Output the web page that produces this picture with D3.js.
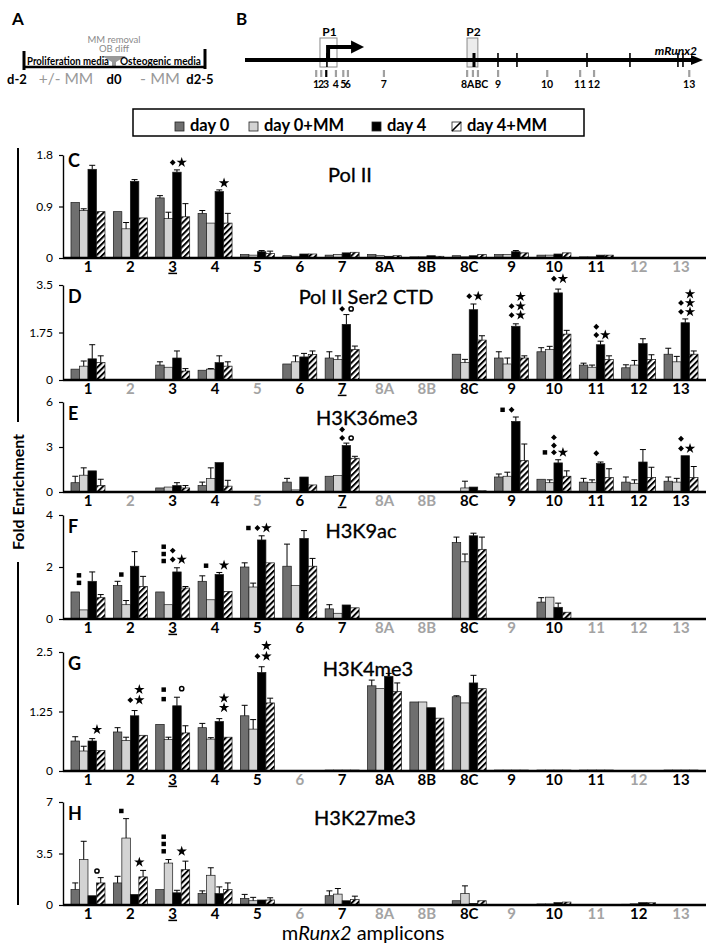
<!DOCTYPE html>
<html>
<head>
<meta charset="utf-8">
<script src="https://cdn.jsdelivr.net/npm/d3@7"></script>
<style>
  body { margin: 0; background: #fff; }
  svg { font-family: Lato, "Open Sans", sans-serif; }
</style>
</head>
<body>
<div id="chart"></div>
<script>
// ---- data ----
const categories = ["1", "2", "3", "4", "5", "6", "7", "8A", "8B", "8C", "9", "10", "11", "12", "13"];
const seriesNames = ["day 0", "day 0+MM", "day 4", "day 4+MM"];

// series order: day 0, day 0+MM, day 4, day 4+MM
const polIIVals = [
  [0.97, 0.81, 1.05, 0.78, 0.06, 0.04, 0.05, 0.06, 0.02, 0.04, 0.06, 0.05, 0.02, null, null],
  [0.83, 0.51, 0.69, 0.61, 0.05, 0.03, 0.06, 0.04, 0.02, 0.02, 0.06, 0.05, 0.02, null, null],
  [1.55, 1.34, 1.50, 1.16, 0.11, 0.07, 0.09, 0.03, 0.04, 0.04, 0.11, 0.07, 0.05, null, null],
  [0.81, 0.70, 0.72, 0.61, 0.08, 0.07, 0.10, 0.04, 0.03, 0.06, 0.09, 0.09, 0.05, null, null]
];
const polIIErr = [
  [0, 0, 0.04, 0.05, 0, 0, 0, 0, 0, 0, 0, 0, 0, 0, 0],
  [0.03, 0.11, 0.11, 0, 0, 0, 0, 0, 0, 0, 0, 0, 0, 0, 0],
  [0.07, 0.03, 0.04, 0.03, 0.02, 0, 0, 0, 0, 0, 0.02, 0, 0, 0, 0],
  [0, 0, 0.23, 0.17, 0.04, 0, 0, 0, 0, 0, 0, 0, 0, 0, 0]
];
const ser2Vals = [
  [0.40, null, 0.55, 0.36, null, 0.59, 0.81, null, null, 0.95, 0.81, 1.04, 0.55, 0.45, 0.95],
  [0.51, null, 0.47, 0.40, null, 0.67, 0.76, null, null, 0.64, 0.59, 1.12, 0.47, 0.55, 0.67],
  [0.78, null, 0.81, 0.64, null, 0.85, 2.05, null, null, 2.59, 1.98, 3.21, 1.30, 1.34, 2.11],
  [0.64, null, 0.33, 0.51, null, 0.94, 1.12, null, null, 1.47, 0.81, 1.69, 0.76, 0.76, 0.95]
];
const ser2Err = [
  [0, 0, 0.12, 0, 0, 0, 0.23, 0, 0, 0, 0.23, 0.15, 0.07, 0.11, 0.22],
  [0.19, 0, 0, 0.02, 0, 0.22, 0.13, 0, 0, 0.12, 0.22, 0.12, 0.08, 0.17, 0.20],
  [0.52, 0, 0.26, 0.25, 0, 0.13, 0.36, 0, 0, 0.21, 0.09, 0.14, 0.13, 0.18, 0.14],
  [0.25, 0, 0.09, 0.16, 0, 0.13, 0.13, 0, 0, 0.16, 0.08, 0.14, 0.13, 0.17, 0.12]
];
const k36Vals = [
  [0.62, null, 0.27, 0.43, null, 0.66, 1.05, null, null, 0.04, 1.00, 0.85, 0.66, 0.66, 0.72],
  [1.12, null, 0.33, 0.91, null, 0.14, 1.10, null, null, 0.27, 1.05, 0.62, 0.62, 0.58, 0.66],
  [1.41, null, 0.43, 1.96, null, 1.00, 3.10, null, null, 0.33, 4.71, 1.94, 1.90, 2.00, 2.42],
  [0.43, null, 0.27, 0.39, null, 0.47, 2.25, null, null, 0.08, 2.09, 1.05, 0.97, 0.97, 0.97]
];
const k36Err = [
  [0.43, 0, 0, 0.23, 0, 0.25, 0, 0, 0, 0, 0.20, 0, 0.25, 0.34, 0.28],
  [0.49, 0, 0, 0.70, 0, 0, 0, 0, 0, 0.45, 0.27, 0.19, 0.19, 0.23, 0.25],
  [0, 0, 0.19, 0, 0, 0, 0.16, 0, 0, 0, 0.29, 0.21, 0.10, 0.83, 0],
  [0.42, 0, 0.16, 0.39, 0, 0, 0.13, 0, 0, 0, 1.11, 0.36, 0.58, 0.68, 0.73]
];
const k9Vals = [
  [1.04, 1.29, 1.04, 1.45, 2.00, 2.03, 0.39, null, null, 2.94, null, 0.65, null, null, null],
  [0.35, 0.55, 0.55, 0.74, 1.23, 1.29, 0.22, null, null, 2.20, null, 0.84, null, null, null],
  [1.45, 2.03, 1.81, 1.71, 3.04, 3.10, 0.54, null, null, 3.20, null, 0.45, null, null, null],
  [0.82, 1.25, 1.19, 1.06, 2.16, 2.03, 0.43, null, null, 2.68, null, 0.26, null, null, null]
];
const k9Err = [
  [0, 0.16, 0, 0.21, 0.16, 0.85, 0.16, 0, 0, 0.21, 0, 0.17, 0, 0, 0],
  [0, 0.16, 0, 0, 0.15, 0, 0, 0, 0, 0.30, 0, 0, 0, 0, 0],
  [0.36, 0.56, 0.16, 0.08, 0.16, 0.30, 0, 0, 0, 0.10, 0, 0.16, 0, 0, 0],
  [0.12, 0.39, 0.06, 0, 0, 0.30, 0, 0, 0, 0.47, 0, 0, 0, 0, 0]
];
const k4Vals = [
  [0.63, 0.82, 0.98, 0.91, 1.16, null, 0.02, 1.79, 1.45, 1.56, 0.02, 0.02, 0.02, null, 0.02],
  [0.42, 0.64, 0.66, 0.67, 0.88, null, 0.02, 1.73, 1.45, 1.43, 0.02, 0.02, 0.02, null, 0.02],
  [0.63, 1.16, 1.37, 1.04, 2.07, null, 0.02, 1.99, 1.33, 1.85, 0.02, 0.02, 0.02, null, 0.02],
  [0.43, 0.75, 0.80, 0.71, 1.43, null, 0.02, 1.67, 1.11, 1.73, 0.02, 0.02, 0.02, null, 0.02]
];
const k4Err = [
  [0.09, 0.09, 0, 0.09, 0.22, 0, 0, 0.12, 0, 0.02, 0, 0, 0, 0, 0],
  [0.10, 0.07, 0.05, 0.03, 0.20, 0, 0, 0, 0, 0, 0, 0, 0, 0, 0],
  [0.05, 0.11, 0.18, 0.06, 0.12, 0, 0, 0.06, 0, 0.16, 0, 0, 0, 0, 0],
  [0, 0, 0.15, 0, 0.10, 0, 0, 0.18, 0, 0, 0, 0, 0, 0, 0]
];
const k27Vals = [
  [1.05, 1.50, 1.05, 0.78, 0.45, null, 0.63, null, null, 0.29, null, 0.07, null, 0.05, null],
  [3.09, 4.55, 2.85, 2.02, 0.29, null, 0.74, null, null, 0.78, null, 0.07, null, 0.08, null],
  [0.63, 0.72, 0.83, 0.78, 0.34, null, 0.29, null, null, 0.11, null, 0.16, null, 0.16, null],
  [1.50, 1.91, 2.40, 1.05, 0.34, null, 0.38, null, null, 0.29, null, 0.20, null, 0.15, null]
];
const k27Err = [
  [0.45, 0.45, 0, 0.18, 0.27, 0, 0.33, 0, 0, 0, 0, 0, 0, 0, 0],
  [1.24, 1.32, 0.24, 0.51, 0.23, 0, 0.38, 0, 0, 0.52, 0, 0, 0, 0, 0],
  [0, 0, 0.17, 0.45, 0, 0, 0, 0, 0, 0, 0, 0, 0, 0, 0],
  [0.36, 0.44, 0.58, 0.45, 0.15, 0, 0.22, 0, 0, 0, 0, 0, 0, 0, 0]
];

// significance marks: [amplicon, series column, symbol, height in fold enrichment]
const polIIMarks = [["3", 2, "diamond", 1.67], ["3", 3, "star", 1.67], ["4", 3, "star", 1.31]];
const ser2Marks = [
  ["7", 2, "diamond", 2.62], ["7", 3, "circle", 2.62], ["8C", 2, "diamond", 3.09], ["8C", 3, "star", 3.09],
  ["9", 2, "diamond", 2.39], ["9", 2, "diamond", 2.72], ["9", 3, "star", 2.39], ["9", 3, "star", 2.72], ["9", 3, "star", 3.07],
  ["10", 2, "diamond", 3.73], ["10", 3, "star", 3.73],
  ["11", 2, "diamond", 1.66], ["11", 2, "diamond", 1.96], ["11", 3, "star", 1.66],
  ["13", 2, "diamond", 2.51], ["13", 2, "diamond", 2.84], ["13", 3, "star", 2.51], ["13", 3, "star", 2.84], ["13", 3, "star", 3.17]
];
const k36Marks = [
  ["7", 2, "diamond", 3.6], ["7", 2, "diamond", 4.17], ["7", 3, "circle", 3.6],
  ["9", 1, "square", 5.48], ["9", 2, "diamond", 5.48],
  ["10", 1, "square", 2.64], ["10", 2, "diamond", 2.64], ["10", 3, "star", 2.64], ["10", 2, "diamond", 3.1], ["10", 2, "diamond", 3.64],
  ["11", 2, "diamond", 2.58],
  ["13", 2, "diamond", 2.9], ["13", 3, "star", 2.9], ["13", 2, "diamond", 3.55]
];
const k9Marks = [
  ["1", 1, "square", 1.39], ["1", 1, "square", 1.68], ["2", 1, "square", 1.71],
  ["3", 1, "square", 2.23], ["3", 1, "square", 2.5], ["3", 1, "square", 2.78], ["3", 2, "diamond", 2.29], ["3", 2, "diamond", 2.63], ["3", 3, "star", 2.29],
  ["4", 1, "square", 2.05], ["4", 3, "star", 2.07],
  ["5", 1, "square", 3.5], ["5", 2, "diamond", 3.5], ["5", 3, "star", 3.5]
];
const k4Marks = [
  ["1", 3, "star", 0.87], ["2", 2, "diamond", 1.49], ["2", 3, "star", 1.49], ["2", 3, "star", 1.71],
  ["3", 1, "square", 1.51], ["3", 1, "square", 1.71], ["3", 3, "circle", 1.73],
  ["4", 3, "star", 1.33], ["4", 3, "star", 1.53],
  ["5", 2, "diamond", 2.41], ["5", 3, "star", 2.41], ["5", 3, "star", 2.63]
];
const k27Marks = [
  ["1", 3, "circle", 2.31], ["2", 1, "square", 6.39], ["2", 3, "star", 2.91],
  ["3", 1, "square", 3.65], ["3", 1, "square", 4.15], ["3", 1, "square", 4.64], ["3", 3, "star", 3.65]
];

const polIITicks = [0, 0.9, 1.8];
const ser2Ticks = [0, 1.75, 3.5];
const k36Ticks = [0, 3, 6];
const k9Ticks = [0, 2, 4];
const k4Ticks = [0, 1.25, 2.5];
const k27Ticks = [0, 3.5, 7];

// amplicons not assayed (grey labels)
const polIIGrey = ["12", "13"];
const ser2Grey = ["2", "5", "8A", "8B"];
const k36Grey = ["2", "5", "8A", "8B"];
const k9Grey = ["8A", "8B", "9", "11", "12", "13"];
const k4Grey = ["6", "12"];
const k27Grey = ["6", "8A", "8B", "9", "11", "13"];

// gene map (relative position along mRunx2, 0-100)
const ampliconPos = [0.8, 2.1, 3.4, 5.9, 7.8, 9.0, 18.3, 39.8, 41.3, 42.6, 47.8, 60.5, 69.0, 72.6, 97.2];
const exonPos = [3.6, 41.6, 47.8, 52.7, 70.8, 81.9, 94.3, 95.6];
const promoters = [["P1", 1.8, 6.2], ["P2", 39.8, 42.6]];
const tssPos = 3.9;

const panels = [
  { letter: "C", title: "Pol II", vals: polIIVals, err: polIIErr, ticks: polIITicks, grey: polIIGrey, under: "3", marks: polIIMarks },
  { letter: "D", title: "Pol II Ser2 CTD", vals: ser2Vals, err: ser2Err, ticks: ser2Ticks, grey: ser2Grey, under: "7", marks: ser2Marks },
  { letter: "E", title: "H3K36me3", vals: k36Vals, err: k36Err, ticks: k36Ticks, grey: k36Grey, under: "7", marks: k36Marks },
  { letter: "F", title: "H3K9ac", vals: k9Vals, err: k9Err, ticks: k9Ticks, grey: k9Grey, under: "3", marks: k9Marks },
  { letter: "G", title: "H3K4me3", vals: k4Vals, err: k4Err, ticks: k4Ticks, grey: k4Grey, under: "3", marks: k4Marks },
  { letter: "H", title: "H3K27me3", vals: k27Vals, err: k27Err, ticks: k27Ticks, grey: k27Grey, under: "3", marks: k27Marks }
];

// ---- layout ----
const W = 711, H = 950;
const panelTop = [155, 285, 402, 515, 652, 802];
const panelBase = [258, 380, 492, 619, 771, 905];
const titleX = [350, 366, 367, 361, 368, 365];
const titleDy = [27, 19, 23, 23, 24, 23];
const axisX = 63, axisEnd = 706;
const fills = ["#6f6f6f", "#d3d3d3", "#000", "url(#hatch)"];
const GREY_TXT = "#a3a3a3";
const symbolTypes = { square: d3.symbolSquare, diamond: d3.symbolDiamond2, star: d3.symbolStar, circle: d3.symbolCircle };
const symbolSize = { square: 20, diamond: 22, star: 34, circle: 14 };

const svg = d3.select("#chart").append("svg").attr("width", W).attr("height", H);
const defs = svg.append("defs");
const pat = defs.append("pattern").attr("id", "hatch")
  .attr("patternUnits", "userSpaceOnUse").attr("width", 4.2).attr("height", 4.2)
  .attr("patternTransform", "rotate(45)");
pat.append("rect").attr("width", 4.2).attr("height", 4.2).attr("fill", "#fff");
pat.append("line").attr("x1", 1).attr("y1", 0).attr("x2", 1).attr("y2", 4.2)
  .attr("stroke", "#000").attr("stroke-width", 2);

// ---- panel A: timeline ----
const gA = svg.append("g");
gA.append("text").attr("x", 12).attr("y", 25).attr("font-size", 17).attr("font-weight", 700).text("A");
gA.append("text").attr("x", 114).attr("y", 42.5).attr("text-anchor", "middle")
  .attr("font-size", 9.5).attr("fill", "#8a8a8a").text("MM removal");
gA.append("text").attr("x", 114).attr("y", 52).attr("text-anchor", "middle")
  .attr("font-size", 9.5).attr("fill", "#8a8a8a").text("OB diff");
gA.append("path").attr("d", "M102,56 L126,56 L116,62 L116,68 L112,68 L112,62 Z").attr("fill", "#999");
gA.append("line").attr("x1", 23).attr("x2", 206).attr("y1", 67).attr("y2", 67)
  .attr("stroke", "#000").attr("stroke-width", 2.5);
gA.append("line").attr("x1", 24).attr("x2", 24).attr("y1", 51).attr("y2", 70)
  .attr("stroke", "#000").attr("stroke-width", 3);
gA.append("line").attr("x1", 205).attr("x2", 205).attr("y1", 49).attr("y2", 69)
  .attr("stroke", "#000").attr("stroke-width", 3);
gA.append("text").attr("x", 27).attr("y", 65).attr("font-size", 11).attr("font-weight", 700)
  .attr("textLength", 82).attr("lengthAdjust", "spacingAndGlyphs").text("Proliferation media");
gA.append("text").attr("x", 120).attr("y", 65).attr("font-size", 11).attr("font-weight", 700)
  .attr("textLength", 81).attr("lengthAdjust", "spacingAndGlyphs").text("Osteogenic media");
[["d-2", 17, "#000", 13, 700], ["+/- MM", 66, "#999", 15.5, 400], ["d0", 114, "#000", 13, 700],
 ["- MM", 160, "#999", 16, 400], ["d2-5", 200, "#000", 13, 700]].forEach(([t, cx, col, fs, fw]) => {
  gA.append("text").attr("x", cx).attr("y", 84).attr("text-anchor", "middle")
    .attr("font-size", fs).attr("font-weight", fw).attr("fill", col).text(t);
});

// ---- panel B: gene map ----
const gB = svg.append("g");
const gx = d3.scaleLinear().domain([0, 100]).range([313, 700]);
gB.append("text").attr("x", 236).attr("y", 25).attr("font-size", 17).attr("font-weight", 700).text("B");
promoters.forEach(([name, a, b], i) => {
  gB.append("rect").attr("x", gx(a)).attr("y", 38).attr("width", gx(b) - gx(a)).attr("height", 29)
    .attr("fill", i ? "#ececec" : "none").attr("stroke", "#8a8a8a").attr("stroke-width", 1);
  gB.append("text").attr("x", (gx(a) + gx(b)) / 2 + 1).attr("y", 36).attr("text-anchor", "middle")
    .attr("font-size", 12).attr("font-weight", 700).text(name);
});
gB.append("line").attr("x1", 245).attr("x2", 695).attr("y1", 60).attr("y2", 60)
  .attr("stroke", "#000").attr("stroke-width", 4);
gB.append("path").attr("d", "M691,55 L703,60 L691,65 Z").attr("fill", "#000");
gB.selectAll(".exon").data(exonPos).join("line").attr("class", "exon")
  .attr("x1", d => gx(d)).attr("x2", d => gx(d)).attr("y1", 53).attr("y2", 67)
  .attr("stroke", "#000").attr("stroke-width", (d, i) => i === 1 ? 3 : 1.6);
gB.append("path")
  .attr("d", `M${gx(tssPos)},60 V47 H${gx(tssPos) + 24}`)
  .attr("fill", "none").attr("stroke", "#000").attr("stroke-width", 4);
gB.append("path")
  .attr("d", `M${gx(tssPos) + 23},40.5 L${gx(tssPos) + 36},47 L${gx(tssPos) + 23},53.5 Z`).attr("fill", "#000");
gB.append("text").attr("x", 697).attr("y", 55).attr("text-anchor", "end")
  .attr("font-size", 12).attr("font-weight", 700).attr("font-style", "italic").text("mRunx2");
gB.selectAll(".amp").data(ampliconPos).join("rect").attr("class", "amp")
  .attr("x", d => gx(d) - 1).attr("width", 2.2).attr("y", 70).attr("height", 7)
  .attr("fill", (d, i) => i === 2 ? "#000" : "#a0a0a0");
// amplicon labels; the tightly packed 8A/8B/8C ticks share one label
const ampLabels = categories.map((c, i) => ({ c, p: ampliconPos[i] })).filter(d => d.c !== "8B" && d.c !== "8C");
gB.selectAll(".ampl").data(ampLabels).join("text").attr("class", "ampl")
  .attr("x", d => d.c === "8A" ? gx(d.p) - 6 : gx(d.p))
  .attr("y", 88)
  .attr("text-anchor", d => d.c === "8A" ? "start" : "middle")
  .attr("font-size", 10.5).attr("font-weight", 700)
  .text(d => d.c === "8A" ? "8ABC" : d.c);

// ---- legend ----
const gL = svg.append("g");
gL.append("rect").attr("x", 133).attr("y", 109).attr("width", 451).attr("height", 27)
  .attr("fill", "none").attr("stroke", "#000").attr("stroke-width", 1.5);
const legendX = [175, 249, 372, 452];
seriesNames.forEach((name, i) => {
  const lx = legendX[i];
  gL.append("rect").attr("x", lx).attr("y", 122).attr("width", 9).attr("height", 9)
    .attr("fill", i === 3 ? "#fff" : fills[i]).attr("stroke", "#222").attr("stroke-width", 0.8);
  if (i === 3) {
    gL.append("line").attr("x1", lx).attr("y1", 131).attr("x2", lx + 9).attr("y2", 122)
      .attr("stroke", "#000").attr("stroke-width", 1.6);
  }
  gL.append("text").attr("x", lx + 15).attr("y", 131).attr("font-size", 16.5).attr("font-weight", 700).text(name);
});

// ---- bar panels ----
const x = d3.scaleBand().domain(categories).range([66.8, 702.2]);
const xs = d3.scaleBand().domain([0, 1, 2, 3]).range([-17, 17]);

panels.forEach((p, pi) => {
  const base = panelBase[pi], top = panelTop[pi];
  const y = d3.scaleLinear().domain([0, p.ticks[2]]).range([base, top]);
  const g = svg.append("g");

  p.vals.forEach((vals, s) => {
    const data = categories.map((c, k) => ({ c, v: vals[k], e: p.err[s][k] })).filter(d => d.v != null);
    const cx = d => x(d.c) + x.bandwidth() / 2 + xs(s);
    g.selectAll(null).data(data).join("rect")
      .attr("x", cx).attr("width", xs.bandwidth())
      .attr("y", d => y(d.v)).attr("height", d => base - y(d.v))
      .attr("fill", fills[s]).attr("stroke", "#1a1a1a").attr("stroke-width", 0.7);
    const withErr = data.filter(d => d.e > 0);
    const mid = d => cx(d) + xs.bandwidth() / 2;
    g.selectAll(null).data(withErr).join("path")
      .attr("d", d => `M${mid(d)},${y(d.v)} V${y(d.v + d.e)} M${mid(d) - 3},${y(d.v + d.e)} H${mid(d) + 3}`)
      .attr("fill", "none").attr("stroke", "#000").attr("stroke-width", 1);
  });

  // significance marks
  g.selectAll(null).data(p.marks).join("path")
    .attr("transform", d => `translate(${x(d[0]) + x.bandwidth() / 2 + (d[1] - 2) * 9},${y(d[3])})`)
    .attr("d", d => d3.symbol(symbolTypes[d[2]], symbolSize[d[2]])())
    .attr("fill", d => d[2] === "circle" ? "#fff" : "#000")
    .attr("stroke", d => d[2] === "circle" ? "#000" : "none")
    .attr("stroke-width", 1.5);

  // y axis
  const ya = g.append("g").attr("transform", `translate(${axisX},0)`)
    .call(d3.axisLeft(y).tickValues(p.ticks).tickSize(4).tickSizeOuter(0).tickPadding(6).tickFormat(d => d));
  ya.select(".domain").attr("stroke-width", 1.4);
  ya.selectAll(".tick line").attr("stroke-width", 1.2);
  ya.selectAll(".tick text").attr("font-size", 12).attr("font-family", "Lato, sans-serif").attr("fill", "#000");

  // x axis
  g.append("line").attr("x1", axisX).attr("x2", axisEnd).attr("y1", base).attr("y2", base)
    .attr("stroke", "#000").attr("stroke-width", 2.6);
  const xa = g.append("g").attr("transform", `translate(0,${base})`)
    .call(d3.axisBottom(x).tickSize(0).tickPadding(3));
  xa.select(".domain").remove();
  xa.selectAll(".tick text")
    .attr("font-size", 15).attr("font-weight", 700).attr("font-family", "Lato, sans-serif")
    .attr("fill", d => p.grey.includes(d) ? GREY_TXT : "#000")
    .style("text-decoration", d => d === p.under ? "underline" : null);

  g.append("text").attr("x", 68).attr("y", top + (pi === 0 ? 12 : 18)).attr("font-size", 18).attr("font-weight", 700).text(p.letter);
  g.append("text").attr("x", titleX[pi]).attr("y", top + titleDy[pi]).attr("text-anchor", "middle")
    .attr("font-size", 20).attr("stroke", "#000").attr("stroke-width", 0.35).text(p.title);
});

// ---- shared axis titles ----
svg.append("line").attr("x1", 18).attr("x2", 18).attr("y1", 148).attr("y2", 422).attr("stroke", "#000").attr("stroke-width", 2);
svg.append("line").attr("x1", 18).attr("x2", 18).attr("y1", 562).attr("y2", 905).attr("stroke", "#000").attr("stroke-width", 2);
svg.append("text").attr("transform", "translate(24,492) rotate(-90)").attr("text-anchor", "middle")
  .attr("font-size", 16).attr("font-weight", 700).text("Fold Enrichment");
const xt = svg.append("text").attr("x", 363).attr("y", 940).attr("text-anchor", "middle").attr("font-size", 20);
xt.append("tspan").text("m");
xt.append("tspan").attr("font-style", "italic").text("Runx2");
xt.append("tspan").text(" amplicons");
</script>
</body>
</html>
